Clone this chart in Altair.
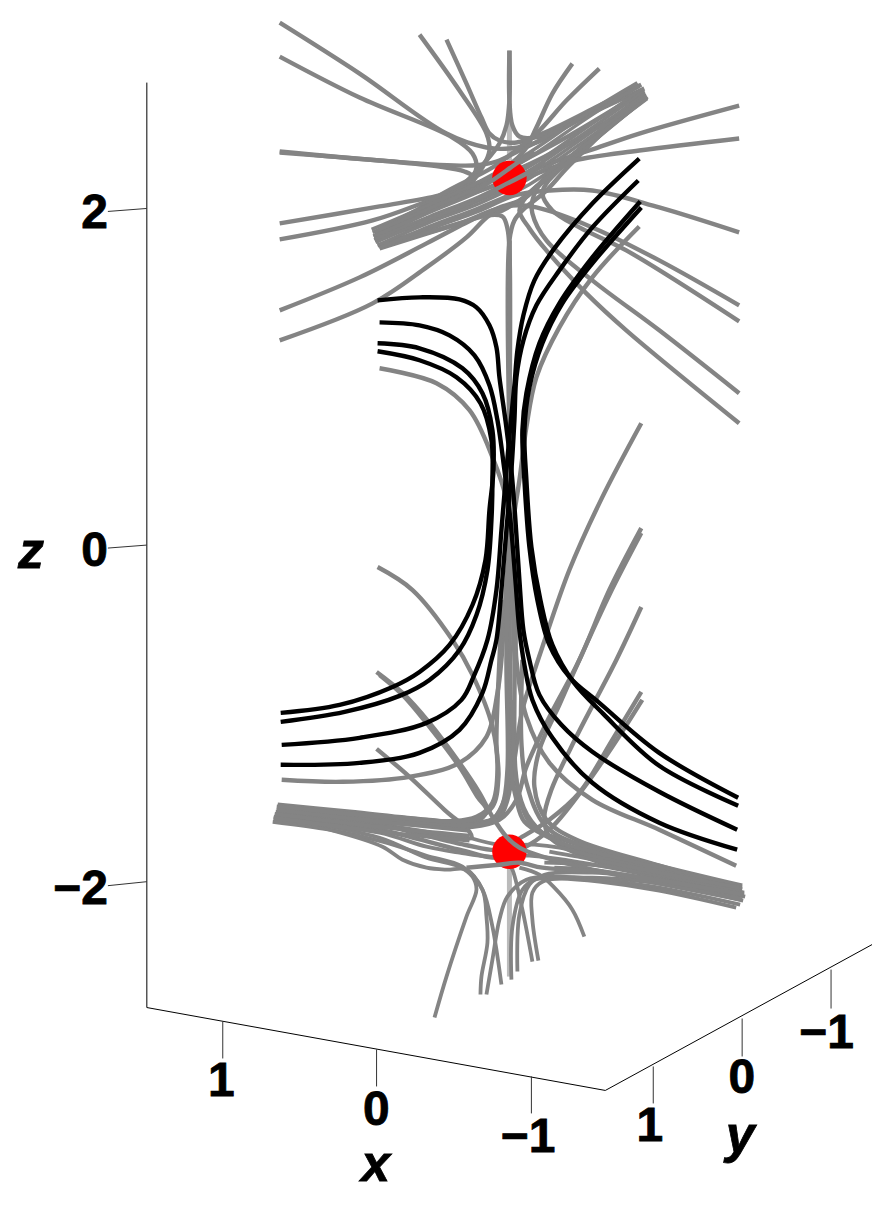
import altair as alt
import pandas as pd

# Field lines as (horizontal, vertical) in the projected view
upper_far = [
 [(280,22),(360,73),(447,133),(487,147),(510,148),(537,142),(590,112),(640,85)],
 [(280,56),(360,97),(453,137),(473,153),(477,167),(470,180),(440,200),(380,230)],
 [(420,34),(460,90),(487,133),(490,150),(483,167),(467,187),(427,207),(375,233)],
 [(447,39),(467,83),(482,117),(490,133),(500,140),(517,142),(543,133),(600,105),(642,84)],
 [(510,50),(510,100),(507,125),(500,143),(487,160),(460,187),(420,212),(374,236)],
 [(510,50),(510,100),(513,125),(520,136),(540,136),(580,118),(645,88)],
 [(280,151),(380,160),(473,165),(497,161),(520,150),(560,130),(640,85)],
 [(280,152),(380,160),(440,166),(465,171),(473,176),(460,187),(430,203),(375,232)],
 [(280,223),(380,206),(440,195),(480,182),(520,162),(570,135),(645,90)],
 [(280,239),(373,220),(433,199),(490,178),(527,165),(570,143),(647,97)],
 [(280,310),(360,277),(427,243),(477,217),(500,207),(525,198),(545,180),(570,160),(648,96)],
 [(280,340),(373,303),(427,267),(467,237),(490,215),(503,210),(520,200),(550,175),(646,93)],
 [(510,430),(510,250),(508,228),(503,216),(487,215),(460,223),(380,248)],
 [(510,430),(510,240),(515,220),(525,208),(545,192),(570,165),(645,92)],
 [(740,105),(640,133),(590,150),(545,165),(510,180),(440,205),(375,240)],
 [(740,138),(640,150),(575,160),(540,172),(490,195),(430,220),(377,238)],
 [(740,232),(660,207),(593,190),(550,190),(515,195),(480,210),(430,228),(380,245)],
 [(740,305),(660,260),(593,227),(537,207),(513,205),(493,210),(460,223),(378,245)],
 [(740,321),(627,250),(580,227),(553,210),(543,193),(547,183),(567,163),(647,97)],
 [(740,393),(660,330),(593,280),(547,240),(533,213),(533,200),(543,180),(570,160),(645,93)],
 [(740,423),(627,330),(587,293),(547,250),(530,228),(520,210),(528,195),(550,175),(645,92)],
 [(573,63),(553,93),(537,127),(525,150),(505,168),(460,195),(380,235)],
 [(600,68),(567,100),(540,130),(520,147),(493,167),(440,195),(378,240)],
]
upper_bundle = [
 [(372,229),(430,204),(480,181),(530,152),(590,111),(638,82)],
 [(373,232),(430,208),(480,186),(530,157),(590,116),(640,85)],
 [(374,236),(430,212),(480,191),(530,166),(590,125),(642,89)],
 [(375,239),(430,216),(480,196),(530,170),(590,129),(644,91)],
 [(376,242),(430,219),(480,199),(530,174),(590,133),(646,93)],
 [(378,245),(430,222),(480,203),(530,178),(590,137),(647,95)],
 [(380,248),(430,226),(480,207),(530,184),(590,141),(648,98)],
]
lower_far = [
 [(380,368),(437,383),(470,410),(493,457),(507,500),(512,570),(516,620),(517,660),(527,717),(550,763),(593,800),(660,830),(737,866)],
 [(640,226),(593,277),(560,327),(537,377),(527,427),(520,480),(510,547),(505,613),(502,660),(498,693),(487,737),(460,763),(410,777),(343,782),(282,780)],
 [(642,423),(603,497),(570,570),(543,647),(537,665),(523,710),(515,760),(508,800),(500,817),(477,823),(427,820),(350,812),(278,805)],
 [(642,528),(610,590),(580,660),(550,717),(527,767),(517,800),(500,820),(473,827),(400,822),(278,810)],
 [(642,533),(610,595),(580,660),(560,705),(540,750),(535,787),(547,820),(577,840),(660,866),(743,890)],
 [(642,607),(617,660),(577,737),(552,790),(545,817),(550,837),(593,860),(660,877),(743,893)],
 [(642,692),(613,740),(580,793),(550,820),(523,837),(500,850),(465,845),(380,825),(276,812)],
 [(643,700),(613,747),(583,790),(553,827),(530,845),(500,858),(460,850),(380,830),(275,816)],
 [(378,567),(413,590),(453,640),(473,675),(493,727),(498,770),(493,803),(477,817),(427,822),(350,815),(278,808)],
 [(380,675),(403,695),(430,727),(460,767),(478,797),(487,810),(480,820),(427,825),(278,812)],
 [(377,749),(410,777),(445,810),(470,832),(472,838),(460,838),(400,828),(276,815)],
 [(510,240),(510,600),(510,770),(505,800),(495,818),(470,825),(278,808)],
 [(510,240),(510,600),(512,770),(517,800),(525,822),(550,838),(593,855),(743,888)],
 [(509,560),(507,660),(508,770),(503,805),(490,822),(460,826),(279,806)],
 [(512,560),(515,660),(516,770),(522,805),(535,828),(570,842),(743,886)],
 [(523,660),(522,743),(527,783),(547,827),(593,850),(740,893)],
 [(503,600),(500,660),(497,743),(499,777),(493,807),(473,820),(400,818),(277,807)],
]
lower_bundle = [
 [(274,819),(380,833),(427,847),(460,853),(490,857),(530,856),(600,866),(743,896)],
 [(273,822),(330,830),(383,842),(427,856),(463,867),(483,890),(487,917),(488,943),(482,977),(481,995)],
 [(275,818),(330,830),(383,847),(403,860),(427,868),(447,870),(467,870),(483,890),(493,927),(502,985)],
 [(435,1018),(447,977),(467,917),(477,890),(473,877),(460,867),(427,858),(380,838),(274,817)],
 [(277,810),(380,822),(470,831)],
 [(275,814),(380,827),(470,836)],
 [(274,818),(380,832),(470,841)],
 [(738,886),(660,868),(593,852),(550,838),(528,815),(517,780),(513,700)],
 [(742,889),(660,871),(600,858),(560,848),(535,845),(500,845),(470,838)],
 [(746,897),(660,880),(593,873),(545,875),(530,885),(520,915),(518,972)],
 [(744,901),(660,884),(593,878),(543,882),(533,893),(533,920),(539,961)],
 [(741,905),(660,888),(600,880),(560,877),(527,880),(508,897),(500,920),(493,960),(487,995)],
 [(737,908),(660,891),(600,882),(560,879),(535,880),(523,890),(513,927),(512,980)],
 [(533,962),(523,910),(513,870),(510,866)],
 [(585,937),(573,910),(555,888),(540,875),(520,868)],
 [(745,893),(660,875),(600,866),(545,863)],
 [(740,888),(660,873),(600,861),(550,852)],
 [(740,899),(660,882),(600,871),(555,868)],
]
front_gray = [
 [(377,672),(403,693),(430,723),(460,763),(480,793),(493,817),(507,837),(520,848),(543,857),(593,870),(743,900)],
 [(467,868),(500,865),(520,863),(543,868),(600,872),(745,895)],
 [(470,194),(493,180),(517,163),(535,151)],
 [(475,201),(498,188),(527,173),(545,161)],
]
pale_vertical = [
 [(510,103),(510,160)],
 [(510,868),(510,977)],
]
black_lines = [
 [(378,300),(420,297),(460,299),(477,307),(490,325),(497,347),(500,377),(506,420),(512,470),(516,520),(520,580),(524,630),(530,660),(540,695),(562,725),(593,752),(660,792),(738,830)],
 [(380,322),(420,325),(450,335),(475,355),(490,385),(498,420),(505,470),(511,520),(516,580),(520,630),(525,665),(533,700),(553,738),(593,783),(660,823),(738,850)],
 [(378,343),(420,348),(463,368),(483,393),(493,430),(494,470),(490,510),(486,560),(473,605),(450,645),(420,672),(393,687),(340,705),(281,713)],
 [(378,351),(420,360),(457,377),(481,403),(492,440),(493,480),(492,520),(488,570),(477,615),(460,650),(430,680),(400,696),(345,712),(281,722)],
 [(640,158),(593,203),(555,248),(535,280),(524,315),(518,350),(515,385),(511,425),(507,470),(502,530),(497,590),(488,640),(474,677),(462,700),(427,723),(360,738),(282,745)],
 [(639,180),(593,227),(560,270),(537,305),(524,340),(517,377),(515,420),(512,470),(507,530),(502,590),(497,640),(492,660),(483,693),(460,730),(420,753),(360,763),(281,765)],
 [(641,201),(593,257),(560,303),(540,343),(527,393),(523,430),(525,480),(530,547),(538,600),(550,645),(570,677),(600,703),(660,753),(739,798)],
 [(642,207),(593,263),(563,303),(543,343),(530,387),(525,430),(527,480),(532,547),(541,600),(553,645),(574,682),(604,714),(660,766),(739,806)],
]
charges_h = [510, 510]
charges_v = [177.5, 852]

axis_h1 = [147, 147, 606]
axis_v1 = [82, 1008, 1091]
axis_h2 = [147, 606, 873]
axis_v2 = [1008, 1091, 945]
tick_h1 = [108, 108, 108, 223, 377, 532, 654, 743, 832]
tick_v1 = [211, 548, 886, 1022, 1050, 1077, 1067, 1019, 970]
tick_h2 = [147, 147, 147, 223, 377, 532, 654, 743, 832]
tick_v2 = [208, 545, 882, 1059, 1087, 1114, 1104, 1057, 1009]

tick_text = ["2", "0", "−2", "1", "0", "−1", "1", "0", "−1"]
tick_text_h = [108, 108, 108, 235, 390, 556, 664, 756, 855]
tick_text_v = [228, 566, 904, 1097, 1126, 1153, 1142, 1094, 1049]
axis_names = ["z", "x", "y"]
axis_names_h = [31, 376, 741]
axis_names_v = [568, 1182, 1153]


def frame(groups):
    rows = []
    for i, g in enumerate(groups):
        for j, (h, v) in enumerate(g):
            rows.append({"line": i, "seq": j, "h": h, "v": v})
    return pd.DataFrame(rows)

X = alt.X("h:Q", scale=alt.Scale(domain=[8, 878], nice=False, zero=False), axis=None)
Y = alt.Y("v:Q", scale=alt.Scale(domain=[1198, 8], nice=False, zero=False), axis=None)


def curves(groups, color, width=4.4, interp="catmull-rom"):
    return alt.Chart(frame(groups)).mark_line(
        color=color, strokeWidth=width, interpolate=interp, strokeCap="butt", strokeJoin="round"
    ).encode(x=X, y=Y, detail="line:N", order="seq:Q")

ax = alt.Chart(pd.DataFrame({"h": axis_h1, "v": axis_v1, "h2": axis_h2, "v2": axis_v2})).mark_rule(
    color="#000000", strokeWidth=1).encode(x=X, y=Y, x2="h2:Q", y2="v2:Q")
ticks = alt.Chart(pd.DataFrame({"h": tick_h1, "v": tick_v1, "h2": tick_h2, "v2": tick_v2})).mark_rule(
    color="#333333", strokeWidth=1).encode(x=X, y=Y, x2="h2:Q", y2="v2:Q")
labels = alt.Chart(pd.DataFrame({"h": tick_text_h, "v": tick_text_v, "t": tick_text})).mark_text(
    font="Liberation Sans", fontWeight="bold", fontSize=48, align="right", baseline="alphabetic",
    color="#000000", stroke="#000000", strokeWidth=0.8).encode(x=X, y=Y, text="t:N")
names = alt.Chart(pd.DataFrame({"h": axis_names_h, "v": axis_names_v, "t": axis_names})).mark_text(
    font="Liberation Sans", fontWeight="bold", fontStyle="italic", fontSize=52, align="center",
    baseline="alphabetic", color="#000000", stroke="#000000", strokeWidth=0.8).encode(x=X, y=Y, text="t:N")
charges = alt.Chart(pd.DataFrame({"h": charges_h, "v": charges_v})).mark_point(
    filled=True, color="#ff0000", opacity=1, size=1190, shape="circle", strokeWidth=0).encode(x=X, y=Y)

chart = alt.layer(
    ax, ticks,
    curves(pale_vertical, "#bbbbbb", 5, "linear"),
    curves(upper_far, "#848484"), curves(upper_bundle, "#848484", 3.4),
    curves(lower_far, "#848484"), curves(lower_bundle, "#848484", 3.8),
    charges,
    curves(front_gray, "#848484"),
    curves(black_lines, "#000000"),
    labels, names,
).properties(width=870, height=1190, padding=0, autosize="none", background="#ffffff"
).configure_view(stroke=None)

chart.save("out.html", embed_options={"renderer": "svg", "actions": False})
